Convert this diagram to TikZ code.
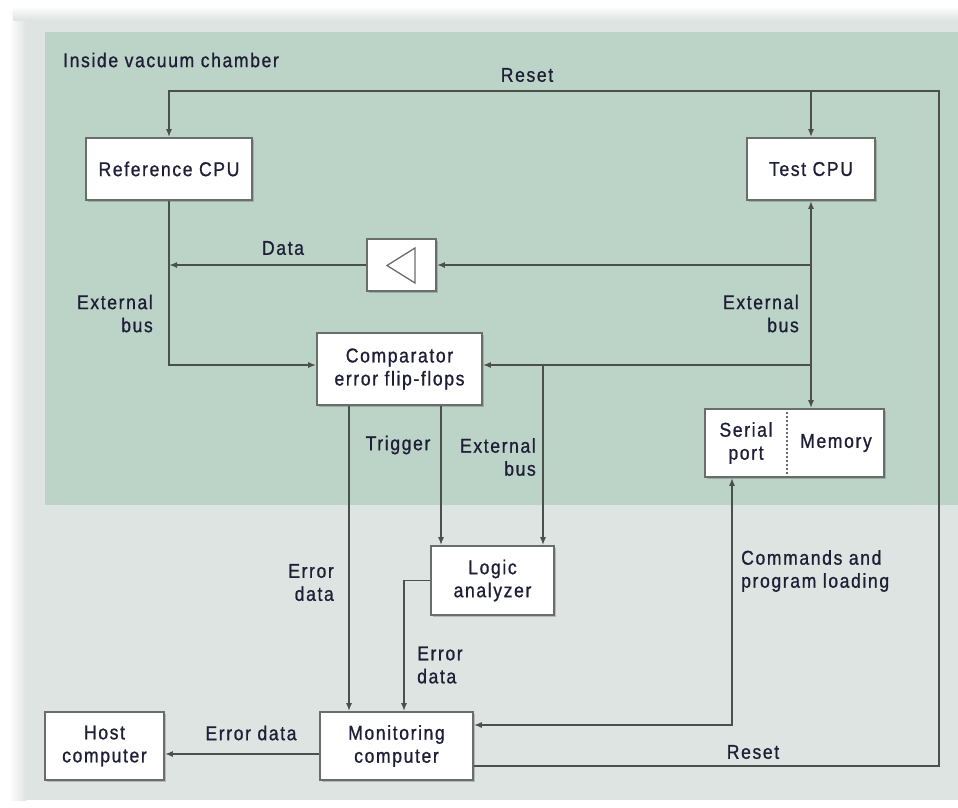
\documentclass[tikz,border=0pt]{standalone}
\usepackage{fontspec}
\setmainfont{Liberation Sans}[FakeStretch=0.88,LetterSpace=8,FakeBold=0.9]
\usetikzlibrary{arrows.meta,shadows}

\definecolor{chamber}{RGB}{188,212,199}
\definecolor{slab}{RGB}{222,228,225}
\definecolor{ink}{RGB}{30,30,55}
\definecolor{wirec}{RGB}{75,79,77}
\definecolor{edgec}{RGB}{105,110,108}

\newcommand\lblfont{\fontsize{20}{23}\selectfont}

\begin{document}
\begin{tikzpicture}[x=1pt,y=-1pt,
  box/.style={draw=edgec,line width=1.6pt,fill=white,align=center,inner sep=0pt,
              text=ink,font=\lblfont,
              drop shadow={shadow xshift=1.5pt,shadow yshift=-1.5pt,fill=black,opacity=0.18}},
  txt/.style={align=center,inner sep=0pt,text=ink,font=\lblfont},
  lbl/.style={inner sep=0pt,text=ink,font=\lblfont},
  wire/.style={draw=wirec,line width=1.6pt},
  tip/.style={-{Latex[length=8pt,width=6pt]}},
  both/.style={{Latex[length=8pt,width=6pt]}-{Latex[length=8pt,width=6pt]}}]

\useasboundingbox (0,0) rectangle (958,807);

% backdrop: textured slab and the vacuum chamber area
\fill[white] (0,0) rectangle (958,807);
\fill[slab] (13,10) rectangle (958,800);
\shade[left color=white,right color=slab] (9,10) rectangle (26,800);
\shade[top color=white,bottom color=slab] (13,6) rectangle (958,20);
\fill[chamber] (45,32) rectangle (958,505);

% blocks
\node[box,minimum width=166pt,minimum height=62pt] (refcpu) at (169,169) {Reference CPU};
\node[box,minimum width=128pt,minimum height=62pt] (testcpu) at (811,169) {Test CPU};
\node[box,minimum width=69pt,minimum height=52pt] (buf) at (401.5,265) {};
\node[box,minimum width=165pt,minimum height=72pt] (comp) at (399.5,369) {Comparator\\error flip-flops};
\node[box,minimum width=179pt,minimum height=68pt] (mem) at (794.5,443) {};
\node[txt] (serial) at (746,443) {Serial\\port};
\node[txt] (memory) at (836,443) {Memory};
\node[box,minimum width=123pt,minimum height=69pt] (logic) at (492.5,580.5) {Logic\\analyzer};
\node[box,minimum width=153pt,minimum height=68pt] (mon) at (396.5,746) {Monitoring\\computer};
\node[box,minimum width=119pt,minimum height=68pt] (host) at (104.5,746) {Host\\computer};

% buffer symbol and the serial/memory split
\draw[draw=edgec,line width=1.3pt,line join=miter] (415,248) -- (387,265.5) -- (415,283) -- cycle;
\draw[draw=edgec,line width=1.3pt,dash pattern=on 2pt off 2pt]
  ([xshift=-7.5pt]mem.north) -- ([xshift=-7.5pt]mem.south);

% junction helpers
\coordinate (rc) at (939,91);
\coordinate (busy) at (0,365);
\coordinate (lbr) at (543,365);
\coordinate (trg) at (441,0);
\coordinate (err) at (349,0);
\coordinate (led) at (404,0);
\coordinate (cmd) at (732,0);

% connectors
\draw[wire,tip] ([yshift=-20pt]mon.east) -| (rc) -| (refcpu.north);
\draw[wire,tip] (testcpu.north |- rc) -- (testcpu.north);
\draw[wire,both] (testcpu.south) -- (testcpu.south |- mem.north);
\draw[wire,tip] (testcpu.south |- buf.east) -- (buf.east);
\draw[wire,tip] (buf.west) -- (refcpu.south |- buf.west);
\draw[wire,tip] (refcpu.south) |- (comp.west |- busy);
\draw[wire,tip] (testcpu.south |- busy) -- (comp.east |- busy);
\draw[wire,tip] (lbr) -- (lbr |- logic.north);
\draw[wire,tip] (comp.south -| err) -- (mon.north -| err);
\draw[wire,tip] (comp.south -| trg) -- (logic.north -| trg);
\draw[wire,tip] (logic.west) -| (mon.north -| led);
\draw[wire,both] ([yshift=21pt]mon.east) -| (mem.south -| cmd);
\draw[wire,tip] ([yshift=-8pt]mon.west) -- ([yshift=-8pt]host.east);

% labels
\node[lbl,anchor=west] (chamberlbl) at (63,60) {Inside vacuum chamber};
\node[lbl] (resettop) at (527,75) {Reset};
\node[lbl] (datalbl) at (283,248) {Data};
\node[lbl,align=right,anchor=east] (busl) at (153,313.5) {External\\bus};
\node[lbl,align=right,anchor=east] (busr) at (799,313.5) {External\\bus};
\node[lbl] (trig) at (398,445) {Trigger};
\node[lbl,align=right,anchor=east] (busm) at (536,457) {External\\bus};
\node[lbl,align=right,anchor=east] (errl) at (334,582.5) {Error\\data};
\node[lbl,align=left,anchor=west] (errm) at (417,665) {Error\\data};
\node[lbl,align=left,anchor=west] (cmdl) at (741,571) {Commands and\\program loading};
\node[lbl] (errh) at (251,733) {Error data};
\node[lbl] (resetbot) at (753,752) {Reset};
\end{tikzpicture}
\end{document}
